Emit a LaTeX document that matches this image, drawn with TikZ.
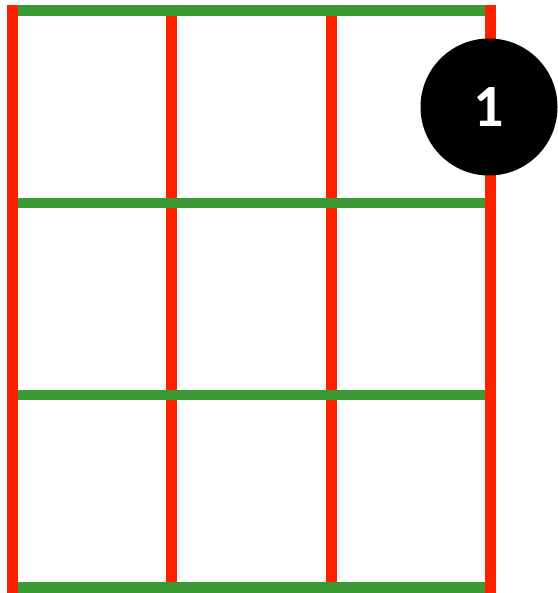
\documentclass[tikz,border=0pt]{standalone}
\usepackage{fontspec}
\setmainfont{Carlito}
\definecolor{gridred}{RGB}{252,34,0}
\definecolor{gridgreen}{RGB}{58,154,52}
\tikzset{
  redline/.style={draw=gridred, line width=11pt},
  greenline/.style={draw=gridgreen, line width=10.5pt},
  badge/.style={circle, fill=black, minimum size=137pt, inner sep=0pt, text=white, font=\fontsize{60}{60}\selectfont\bfseries}
}
\begin{document}
\begin{tikzpicture}[x=1pt,y=-1pt]
\useasboundingbox (0,0) rectangle (557,593);
% interior red verticals
\draw[redline] (171.5,5) -- (171.5,593);
\draw[redline] (331,5) -- (331,593);
% green horizontals
\foreach \y in {10.5,203,395,587.5}
  \draw[greenline] (13,\y) -- (490,\y);
% outer red verticals
\draw[redline] (12.5,5) -- (12.5,592.5);
\draw[redline] (490.5,5) -- (490.5,592.5);
% badge
\node[badge] (one) at (489,107) {1};
\end{tikzpicture}
\end{document}
